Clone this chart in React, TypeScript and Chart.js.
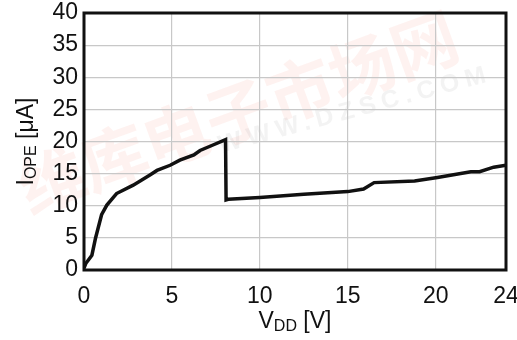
import React, { useEffect, useRef } from "react";
import { Chart, registerables } from "chart.js";

Chart.register(...registerables);

// Supply voltage V_DD [V]
const vdd = [0, 0.1, 0.45, 0.65, 1.0, 1.3, 1.85, 2.8, 3.75, 4.15, 4.9, 5.45, 6.25, 6.6, 7.2, 8.05, 8.08, 8.2, 10.0, 12.5, 15.0, 15.9, 16.5, 18.8, 20.1, 22.0, 22.5, 23.3, 24];
// Operating current I_OPE [µA]
const iope = [0.3, 1.0, 2.3, 4.9, 8.6, 10.1, 11.9, 13.2, 14.8, 15.5, 16.3, 17.1, 17.9, 18.6, 19.3, 20.3, 10.9, 11.0, 11.3, 11.8, 12.2, 12.6, 13.6, 13.85, 14.4, 15.3, 15.3, 16.0, 16.3];

const xTicks = [0, 5, 10, 15, 20, 24];
const yMin = 0;
const yMax = 40;
const yStep = 5;

const FONT = "'Liberation Sans', Arial, Helvetica, sans-serif";
const SIZE = 23;

// Draws text made of [text, isSubscript] pieces centred on (0,0) of the current transform.
function drawPieces(ctx: CanvasRenderingContext2D, pieces: [string, boolean][], size: number) {
  const subSize = Math.round(size * 0.68);
  const widths = pieces.map(([t, sub]) => {
    ctx.font = `${sub ? subSize : size}px ${FONT}`;
    return ctx.measureText(t).width;
  });
  const total = widths.reduce((a, b) => a + b, 0);
  let x = -total / 2;
  ctx.textBaseline = "alphabetic";
  ctx.textAlign = "left";
  pieces.forEach(([t, sub], i) => {
    ctx.font = `${sub ? subSize : size}px ${FONT}`;
    ctx.fillText(t, x, sub ? size * 0.36 + 3 : size * 0.36);
    x += widths[i];
  });
}

const backdropPlugin = {
  id: "backdrop",
  beforeDraw(chart: any) {
    const ctx = chart.ctx as CanvasRenderingContext2D;
    ctx.save();
    ctx.fillStyle = "#ffffff";
    ctx.fillRect(0, 0, chart.width, chart.height);
    // faint site mark behind the grid
    ctx.translate(238, 112);
    ctx.rotate((-20 * Math.PI) / 180);
    ctx.fillStyle = "rgba(246, 140, 120, 0.11)";
    ctx.font = `bold 66px 'Noto Sans CJK SC', sans-serif`;
    ctx.textAlign = "center";
    ctx.textBaseline = "middle";
    ctx.fillText("维库电子市场网", 0, 0);
    ctx.restore();

    ctx.save();
    ctx.translate(355, 110);
    ctx.rotate((-15 * Math.PI) / 180);
    ctx.fillStyle = "rgba(160, 160, 160, 0.13)";
    ctx.font = `bold 25px ${FONT}`;
    ctx.textAlign = "center";
    ctx.textBaseline = "middle";
    (ctx as any).letterSpacing = "6px";
    ctx.fillText("WWW.DZSC.COM", 0, 0);
    ctx.restore();
  },
  afterDraw(chart: any) {
    const ctx = chart.ctx as CanvasRenderingContext2D;
    const a = chart.chartArea;
    ctx.save();
    ctx.strokeStyle = "#111111";
    ctx.lineWidth = 3;
    ctx.strokeRect(a.left, a.top, a.right - a.left, a.bottom - a.top);

    ctx.fillStyle = "#111111";
    // x-axis title
    ctx.save();
    ctx.translate((a.left + a.right) / 2, 320);
    drawPieces(ctx, [["V", false], ["DD", true], [" [V]", false]], SIZE);
    ctx.restore();
    // y-axis title
    ctx.save();
    ctx.translate(25, (a.top + a.bottom) / 2);
    ctx.rotate(-Math.PI / 2);
    drawPieces(ctx, [["I", false], ["OPE", true], [" [\u03bcA]", false]], SIZE);
    ctx.restore();
    ctx.restore();
  },
};

export default function App() {
  const canvasRef = useRef<HTMLCanvasElement | null>(null);

  useEffect(() => {
    const canvas = canvasRef.current;
    if (!canvas) return;
    const chart = new Chart(canvas, {
      type: "line",
      data: {
        datasets: [
          {
            data: vdd.map((x, i) => ({ x, y: iope[i] })),
            borderColor: "#111111",
            borderWidth: 3.5,
            pointRadius: 0,
            tension: 0,
            fill: false,
          },
        ],
      },
      options: {
        responsive: false,
        animation: false,
        events: [],
        layout: { padding: { top: 13, right: 11, left: 0, bottom: 0 } },
        plugins: { legend: { display: false }, tooltip: { enabled: false } },
        scales: {
          x: {
            type: "linear",
            min: 0,
            max: 24,
            afterBuildTicks: (scale: any) => {
              scale.ticks = xTicks.map((v) => ({ value: v }));
            },
            afterFit: (scale: any) => {
              scale.height = 70;
              scale.paddingLeft = 0;
              scale.paddingRight = 0;
            },
            grid: { color: "#c8c8c8", lineWidth: 1.2, drawTicks: false },
            border: { display: false },
            ticks: {
              color: "#111111",
              font: { family: FONT, size: SIZE },
              padding: 13,
              maxRotation: 0,
              autoSkip: false,
            },
          },
          y: {
            type: "linear",
            min: yMin,
            max: yMax,
            afterFit: (scale: any) => {
              scale.width = 84;
              scale.paddingTop = 0;
              scale.paddingBottom = 0;
            },
            grid: { color: "#c8c8c8", lineWidth: 1.2, drawTicks: false },
            border: { display: false },
            ticks: {
              stepSize: yStep,
              color: "#111111",
              font: { family: FONT, size: SIZE },
              padding: 6,
            },
          },
        },
      },
      plugins: [backdropPlugin],
    });
    return () => chart.destroy();
  }, []);

  return (
    <div style={{ position: "fixed", left: 0, top: 0, width: 517, height: 340, background: "#fff" }}>
      <canvas ref={canvasRef} width={517} height={340} />
    </div>
  );
}
